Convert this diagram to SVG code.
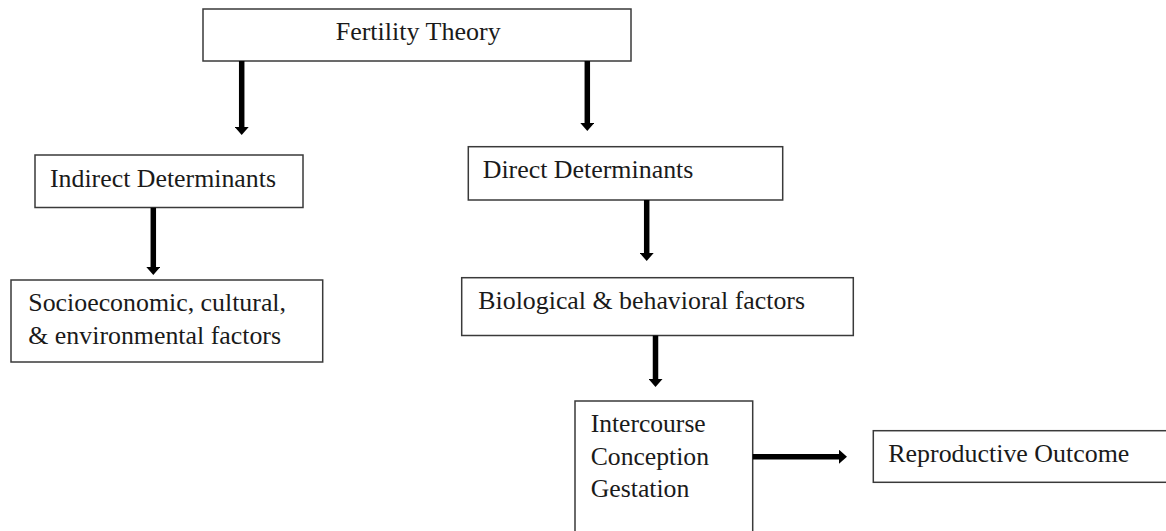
<svg xmlns="http://www.w3.org/2000/svg" width="1166" height="531" viewBox="0 0 1166 531">
<style>
.box{fill:#fff;stroke:#3a3a3a;stroke-width:1.5}
.t{font-size:25px;fill:#1a1a1a}
.arr{stroke:#000;stroke-width:5.5;fill:none;marker-end:url(#head)}
</style>
<defs>
<marker id="head" markerUnits="userSpaceOnUse" markerWidth="8" markerHeight="14" refX="0" refY="7" orient="auto" viewBox="0 0 8 14">
<path d="M0,0 L8,7 L0,14 z" fill="#000"/>
</marker>
</defs>
<rect width="1166" height="531" fill="#fff"/>
<g font-family="'Liberation Serif', Tinos, 'Times New Roman', 'DejaVu Serif', serif">
<g id="fertility-theory">
<rect class="box" x="203" y="9" width="428" height="52"/>
<text class="t" x="335.7" y="40" textLength="165" lengthAdjust="spacingAndGlyphs">Fertility Theory</text>
</g>
<g id="indirect-determinants">
<rect class="box" x="35" y="155" width="268" height="52.5"/>
<text class="t" x="50" y="186.7" textLength="226" lengthAdjust="spacingAndGlyphs">Indirect Determinants</text>
</g>
<g id="direct-determinants">
<rect class="box" x="468.3" y="146.7" width="314.4" height="53.3"/>
<text class="t" x="482.7" y="178.3" textLength="210.7" lengthAdjust="spacingAndGlyphs">Direct Determinants</text>
</g>
<g id="socioeconomic-factors">
<rect class="box" x="11" y="280" width="311.7" height="82"/>
<text class="t" x="28.3" y="311" textLength="257.7" lengthAdjust="spacingAndGlyphs">Socioeconomic, cultural,</text>
<text class="t" x="28.3" y="344" textLength="252.7" lengthAdjust="spacingAndGlyphs">&amp; environmental factors</text>
</g>
<g id="biological-behavioral-factors">
<rect class="box" x="461.7" y="277.7" width="391.6" height="57.8"/>
<text class="t" x="478.3" y="309" textLength="326.7" lengthAdjust="spacingAndGlyphs">Biological &amp; behavioral factors</text>
</g>
<g id="intercourse-conception-gestation">
<rect class="box" x="575" y="401" width="177.7" height="140"/>
<text class="t" x="590.7" y="431.7" textLength="115" lengthAdjust="spacingAndGlyphs">Intercourse</text>
<text class="t" x="590.7" y="465" textLength="118.3" lengthAdjust="spacingAndGlyphs">Conception</text>
<text class="t" x="590.7" y="496.7" textLength="98.7" lengthAdjust="spacingAndGlyphs">Gestation</text>
</g>
<g id="reproductive-outcome">
<rect class="box" x="873.3" y="430.7" width="300" height="51.6"/>
<text class="t" x="888.3" y="462.3" textLength="241" lengthAdjust="spacingAndGlyphs">Reproductive Outcome</text>
</g>
</g>
<g id="connectors">
<line class="arr" x1="241.7" y1="61" x2="241.7" y2="127"/>
<line class="arr" x1="587.3" y1="61" x2="587.3" y2="123"/>
<line class="arr" x1="153.3" y1="207.7" x2="153.3" y2="267"/>
<line class="arr" x1="646.7" y1="200" x2="646.7" y2="253"/>
<line class="arr" x1="655.5" y1="335.5" x2="655.5" y2="379"/>
<line class="arr" x1="752.7" y1="456.7" x2="839" y2="456.7"/>
</g>
</svg>
